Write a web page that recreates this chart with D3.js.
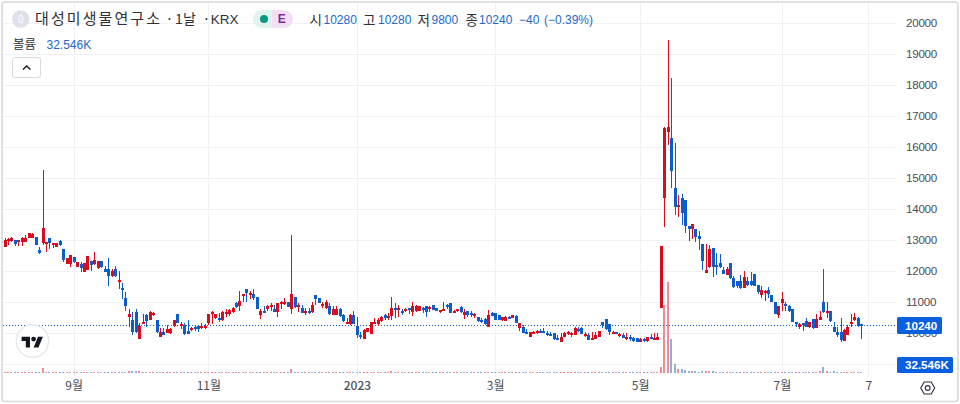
<!DOCTYPE html>
<html>
<head>
<meta charset="utf-8">
<script src="https://d3js.org/d3.v7.min.js"></script>
<style>
  html,body{margin:0;padding:0;background:#fff;}
  svg{display:block;}
  text{font-family:"Liberation Sans",Arial,sans-serif;}
  .kr{font-family:"Noto Sans CJK KR",sans-serif;}
</style>
</head>
<body>
<svg id="chart" width="960" height="404"></svg>
<script>
var opens = [
12790,12980,12970,12990,12970,12930,12950,13080,13080,13090,
12680,12890,12940,13080,12880,12790,12970,12710,12230,12220,
12440,12140,12220,11980,12030,12310,12220,12110,12310,12070,
12070,11850,12070,11660,11460,11120,10510,10420,10670,9810,
10310,10580,10420,10580,10420,9880,10020,10010,9990,10240,
10610,10280,10260,10070,10110,10200,10220,10200,10190,10310,
10600,10500,10500,10420,10650,10600,10690,10980,10880,11240,
11420,11260,11250,11160,10580,10710,10780,10880,10780,10670,
10950,10970,10990,10780,11160,10880,10800,10670,10710,10670,
11230,11140,10890,10800,10870,10590,10590,10760,10580,10350,
10300,10580,10230,9920,9810,10040,9980,10320,10280,10390,
10580,10530,10560,10800,10780,10710,10750,10800,10670,10710,
10710,10800,10870,10810,10900,10800,10690,10740,10900,10960,
10640,10720,10850,10580,10710,10640,10540,10510,10420,10440,
10200,10640,10640,10580,10420,10390,10530,10500,10560,10170,
10200,10040,9880,10000,10020,10060,10080,9990,9970,9990,
9830,9720,9880,9990,9970,9940,10130,10150,9950,9940,
9790,9810,9880,10350,10440,10280,10020,10020,9920,9920,
9850,9870,9850,9830,9720,9820,9750,9880,9800,9790,
10820,14360,16480,16290,14680,14060,14360,14290,13450,13340,
13340,13130,12870,11950,12140,12730,12190,12250,12030,11870,
12250,11760,11680,11680,11440,11680,11680,11900,11550,11210,
11320,11380,11230,11010,10580,10980,10930,10870,10760,10360,
10200,10310,10400,10200,10440,10170,10430,10990,10690,10710,
10200,10040,10020,9750,9920,10350,10420,10500,10280];
var highs = [
13050,13050,13090,13010,12990,13110,13160,13230,13210,13090,
12790,15250,12950,13080,12890,12890,12990,12710,12430,12510,
12440,12300,12280,12270,12500,12310,12600,12320,12310,12170,
12410,12070,12150,12000,11610,11310,10780,10670,10760,10310,
10600,10600,10710,10670,10420,10150,10150,10260,10150,10420,
10610,10350,10310,10420,10200,10230,10260,10310,10280,10600,
10710,10600,10640,10710,10780,10780,10850,10990,11360,11260,
11420,11360,11420,11160,10760,10880,10900,10960,10900,10960,
11030,11120,10990,13150,11160,10960,10900,10820,10800,10990,
11230,11140,10990,11050,10960,10880,10880,10800,10600,10470,
10600,10710,10530,10040,10130,10170,10350,10500,10470,10560,
10610,10640,11160,10960,10900,10780,10820,10820,10990,10900,
10870,10850,10870,10870,10900,10800,10750,10990,10930,10960,
10740,10780,10880,10780,10710,10710,10640,10510,10470,10470,
10740,10690,10640,10580,10530,10560,10560,10580,10580,10310,
10260,10130,10020,10070,10100,10130,10170,10080,10020,10010,
9940,9990,10040,10070,10040,10180,10200,10180,10040,9990,
10040,10040,10080,10370,10450,10280,10070,10030,9990,10000,
9990,9920,9880,9850,9830,9850,9880,9960,9990,9990,
12810,16650,19450,18220,16130,14450,14480,14290,13450,13510,
13340,13290,12870,12870,12840,12730,12570,12540,12140,12140,
12250,11850,11680,11870,12000,11820,11960,11900,11550,11510,
11390,11470,11230,11010,10870,11330,10990,10900,10760,10370,
10310,10310,10470,10370,10440,10600,10710,12070,10990,10710,
10350,10180,10470,10130,10260,10600,10640,10530,10280];
var lows = [
12790,12840,12930,12820,12820,12820,12930,13050,13050,12840,
12550,12840,12620,12710,12730,12790,12820,12280,12230,12140,
12250,12140,11980,11980,12030,12010,12190,12070,12090,11960,
11530,11820,11820,11420,11100,10710,10200,9920,9990,9810,
10280,10200,10420,10560,10010,9880,9920,9990,9960,10200,
10330,10130,9940,9980,10070,10070,10040,10130,10130,10260,
10280,10450,10370,10400,10530,10560,10640,10820,10710,11010,
10990,11100,11070,10780,10450,10660,10710,10710,10670,10530,
10780,10900,10850,10600,10820,10690,10640,10580,10610,10640,
10900,10960,10800,10780,10580,10580,10580,10530,10370,10310,
10260,10290,9830,9810,9810,10020,9970,10280,10240,10350,
10420,10420,10420,10470,10530,10580,10670,10600,10560,10690,
10710,10640,10530,10670,10740,10710,10640,10740,10780,10630,
10630,10690,10640,10450,10530,10530,10500,10370,10310,10260,
10200,10560,10430,10420,10390,10390,10450,10470,10330,10070,
9990,10000,9870,9960,9970,10010,9990,9900,9900,9780,
9780,9700,9860,9920,9880,9920,10020,9960,9880,9780,
9780,9800,9860,10150,10100,9940,9960,9970,9880,9830,
9780,9750,9720,9700,9700,9720,9720,9830,9780,9780,
10820,13420,16060,14680,13810,13730,13480,13240,12980,13030,
12950,12680,12030,11930,12110,11800,11870,12090,11890,11870,
11740,11440,11460,11420,11440,11520,11530,11520,11250,11140,
11030,11120,10990,10600,10500,10710,10710,10690,10350,10200,
10130,10070,10180,10170,10130,10150,10430,10640,10500,10370,
10020,9880,9720,9750,9920,10200,10400,10200,9800];
var closes = [
13000,13040,13050,12880,12990,13080,13080,13220,13180,12840,
12570,13400,12950,12890,12890,12890,12840,12360,12430,12510,
12300,12300,12110,12270,12500,12190,12360,12320,12120,11980,
11850,12000,11850,11710,11400,10870,10610,10020,10020,10240,
10350,10390,10670,10640,10020,10020,9920,10130,10130,10420,
10330,10290,9960,9980,10150,10130,10130,10230,10240,10600,
10670,10600,10420,10670,10670,10740,10820,10840,11030,11260,
11300,11280,11120,10780,10720,10660,10870,10900,10670,10960,
10990,10990,10850,11260,10840,10900,10660,10720,10660,10900,
11090,10980,10930,10990,10600,10780,10780,10560,10390,10370,
10580,10300,9920,9880,10090,10150,10350,10350,10420,10530,
10470,10560,10800,10740,10800,10660,10780,10780,10870,10870,
10870,10740,10670,10830,10750,10720,10730,10760,10860,10640,
10710,10760,10670,10690,10580,10600,10600,10390,10390,10290,
10580,10560,10430,10430,10510,10530,10460,10580,10330,10310,
10010,10010,10020,10020,10060,10020,10040,9950,9930,9810,
9800,9880,10010,10020,9990,10150,10100,9970,9970,9790,
9850,9920,10080,10260,10130,10040,10040,9990,9960,9850,
9870,9850,9740,9720,9800,9790,9860,9850,9850,9880,
12810,16600,16640,15240,14070,14120,13880,13450,13350,13510,
13110,13030,12330,12030,12710,12140,12140,12120,11900,12050,
11760,11500,11530,11440,11820,11540,11550,11530,11330,11380,
11370,11250,11010,10620,10870,11100,10860,10710,10370,10280,
10300,10280,10200,10350,10150,10440,10520,10670,10720,10390,
10040,9920,9780,10100,10200,10370,10530,10240,10240];
// volume in thousands
var volumes = [
30,25,20,25,20,30,25,35,25,30,
30,165,40,30,25,20,25,35,30,30,
25,25,25,30,35,25,25,30,25,30,
40,30,25,30,30,45,50,60,50,55,
30,25,30,25,35,30,25,25,20,30,
30,20,30,25,20,20,20,20,20,40,
30,25,25,30,25,30,30,25,35,30,
30,25,20,30,30,20,20,20,25,30,
25,20,20,125,40,30,25,20,20,30,
30,25,20,25,25,20,20,25,25,20,
30,25,40,30,30,20,35,25,25,25,
20,20,50,30,25,20,20,20,30,25,
25,20,20,20,20,20,15,20,20,25,
20,20,20,25,20,15,15,20,15,20,
35,20,25,20,15,20,15,15,20,25,
25,20,20,15,15,15,15,15,15,20,
15,20,20,15,15,25,20,20,15,15,
15,20,25,40,35,30,15,15,15,15,
15,15,15,15,15,15,20,15,15,30,
190,2055,2730,1035,285,135,130,105,70,60,
60,45,50,50,65,60,45,40,40,45,
45,40,35,30,35,30,25,30,30,30,
20,25,35,40,45,45,30,25,40,30,
25,20,25,20,25,40,50,195,60,45,
50,40,45,40,35,30,30,30,32.546];

var gridTicks = [9000,10000,11000,12000,13000,14000,15000,16000,17000,18000,19000,20000];
var priceTicks = [10000,11000,12000,13000,14000,15000,16000,17000,18000,19000,20000];
// candle index where each time label sits
var timeIdx = [20,59,102,142,184,225,250];
var timeLabels = ["9월","11월","2023","3월","5월","7월","7"];

var upColor = "#dc0a1e";
var downColor = "#0c5dcc";
var gridColor = "#f0f1f4";
var textBlue = "#2468c8";

var svg = d3.select("#chart");
var paneRight = 896;

var x = d3.scaleLinear().domain([0,248]).range([4.5,861.3]);
var y = d3.scaleLinear().domain([9000,20000]).range([364,23]);
var yVol = d3.scaleLinear().domain([0,2730]).range([373,282]);

// frame
svg.append("rect").attr("x",2).attr("y",2).attr("width",956).attr("height",399.5)
  .attr("rx",3).attr("fill","#fff").attr("stroke","#d8d8da").attr("stroke-width",1.6);

// grid
svg.append("g").selectAll("line").data(gridTicks).enter().append("line")
  .attr("x1",3).attr("x2",paneRight)
  .attr("y1",function(d){return Math.round(y(d))+0.5;})
  .attr("y2",function(d){return Math.round(y(d))+0.5;})
  .attr("stroke",gridColor);
svg.append("g").selectAll("line").data(timeIdx).enter().append("line")
  .attr("x1",function(d){return Math.round(x(d))+0.5;})
  .attr("x2",function(d){return Math.round(x(d))+0.5;})
  .attr("y1",3).attr("y2",377)
  .attr("stroke",gridColor);

// volume
svg.append("g").selectAll("rect").data(volumes).enter().append("rect")
  .attr("x",function(d,i){return Math.round(x(i))-1;})
  .attr("width",2)
  .attr("y",function(d){return Math.min(Math.round(yVol(d)),372);})
  .attr("height",function(d){return Math.max(1,373-Math.round(yVol(d)));})
  .attr("shape-rendering","crispEdges")
  .attr("fill",function(d,i){return closes[i]>=opens[i] ? "#f08c96" : "#8db0de";});

// last price line
svg.append("line").attr("x1",3).attr("x2",paneRight)
  .attr("y1",Math.floor(y(closes[248]))+0.5).attr("y2",Math.floor(y(closes[248]))+0.5)
  .attr("stroke",downColor).attr("stroke-dasharray","1 2");

// candles
var candle = svg.append("g").selectAll("g").data(opens).enter().append("g")
  .attr("shape-rendering","crispEdges")
  .attr("fill",function(d,i){return closes[i]>=opens[i] ? upColor : downColor;});
candle.append("rect")
  .attr("x",function(d,i){return Math.round(x(i));})
  .attr("width",1)
  .attr("y",function(d,i){return Math.round(y(highs[i]));})
  .attr("height",function(d,i){return Math.max(1,Math.round(y(lows[i]))-Math.round(y(highs[i])));});
candle.append("rect")
  .attr("x",function(d,i){return Math.round(x(i))-1;})
  .attr("width",3)
  .attr("y",function(d,i){return Math.round(y(Math.max(opens[i],closes[i])));})
  .attr("height",function(d,i){
    return Math.max(2,Math.round(y(Math.min(opens[i],closes[i])))-Math.round(y(Math.max(opens[i],closes[i]))));
  });

// price axis
var yAxis = d3.axisRight(y).tickValues(priceTicks).tickSize(0).tickPadding(0).tickFormat(d3.format("d"));
var yG = svg.append("g").attr("transform","translate(906,0)").call(yAxis);
yG.select(".domain").remove();
yG.selectAll("text").attr("font-size",11.6).attr("fill","#4a4e57").style("letter-spacing","-0.25px")
  .style("font-family",'"Liberation Sans",Arial,sans-serif');

// time axis
var xAxis = d3.axisBottom(x).tickValues(timeIdx).tickSize(0).tickPadding(0)
  .tickFormat(function(d,i){return timeLabels[i];});
var xG = svg.append("g").attr("transform","translate(0,381.5)").call(xAxis);
xG.select(".domain").remove();
xG.selectAll("text").attr("class","kr").attr("font-size",12).attr("fill","#4a4e57")
  .style("font-family",'"Noto Sans CJK KR",sans-serif')
  .style("font-weight",function(d,i){return timeLabels[i]=="2023" ? 500 : 400;})
  .attr("y",0);

// price labels
function priceTag(top,w,h,txt){
  svg.append("rect").attr("x",897).attr("y",top).attr("width",w).attr("height",h).attr("rx",1.5).attr("fill","#0a5fe0");
  svg.append("text").attr("x",905).attr("y",top+h/2+4.2).attr("fill","#fff").attr("font-size",11.6)
    .attr("font-weight","bold").text(txt);
}
priceTag(317,45,17,"10240");
priceTag(357,56,16,"32.546K");

// settings icon
var gear = svg.append("g").attr("transform","translate(927.7,388)").attr("fill","none").attr("stroke","#2a2e39").attr("stroke-width",1.1);
gear.append("path").attr("d","M-7,0L-3.5,-6H3.5L7,0L3.5,6H-3.5Z");
gear.append("circle").attr("r",2.4);

// logo
var logo = svg.append("g");
logo.append("circle").attr("cx",32.5).attr("cy",341).attr("r",16.2).attr("fill","#fff").attr("stroke","#e8e9ee").attr("stroke-width",1.5);
var logoMark = logo.append("g").attr("transform","translate(21.6,334.3) scale(0.6)").attr("fill","#131722");
logoMark.append("path").attr("d","M14 22H7V11H0V4h14v18zM28 22h-8l7.5-18h8L28 22z");
logoMark.append("circle").attr("cx",20).attr("cy",8).attr("r",4);

// legend
svg.append("circle").attr("cx",20.7).attr("cy",19).attr("r",8.7).attr("fill","#dfe1ea");
svg.append("text").attr("x",20.7).attr("y",22.5).attr("text-anchor","middle").attr("font-size",10).attr("fill","#fff").text("0");
var titleParts = [["대성미생물연구소",35,15,125],["·",165.5,14,null],["1",175,14,null],["날",183,14,null],["·",202.5,14,null]];
svg.append("g").selectAll("text").data(titleParts).enter().append("text").attr("class","kr")
  .attr("x",function(d){return d[1];}).attr("y",24).attr("font-size",function(d){return d[2];}).attr("fill","#2e3138")
  .attr("textLength",function(d){return d[3];})
  .text(function(d){return d[0];});
svg.append("text").attr("x",210.7).attr("y",24).attr("font-size",13.5).attr("fill","#2e3138").text("KRX");

svg.append("path").attr("d","M272,10H262a9,9 0 0 0 0,18H272Z").attr("fill","#e0f3ef");
svg.append("path").attr("d","M272,10H284a9,9 0 0 1 0,18H272Z").attr("fill","#f2def5");
svg.append("circle").attr("cx",264).attr("cy",19).attr("r",4).attr("fill","#089981");
svg.append("text").attr("x",281.7).attr("y",23.4).attr("text-anchor","middle").attr("font-size",12).attr("font-weight","bold").attr("fill","#7b2d9b").text("E");

var legendKeys = [["시",309.5],["고",363],["저",417.5],["종",465.5]];
var legendVals = [["10280",323.5],["10280",378],["9800",431.5],["10240",479],["−40",519],["(−0.39%)",544]];
svg.append("g").selectAll("text").data(legendKeys).enter().append("text").attr("class","kr")
  .attr("x",function(d){return d[1];}).attr("y",24.5).attr("font-size",13.5).attr("fill","#2e3138")
  .text(function(d){return d[0];});
svg.append("g").selectAll("text").data(legendVals).enter().append("text")
  .attr("x",function(d){return d[1];}).attr("y",24).attr("font-size",12).attr("fill",textBlue)
  .text(function(d){return d[0];});

svg.append("text").attr("class","kr").attr("x",13).attr("y",49).attr("font-size",12.5).attr("fill","#2e3138").text("볼륨");
svg.append("text").attr("x",46.5).attr("y",48.5).attr("font-size",12).attr("fill",textBlue).text("32.546K");

// collapse button
svg.append("rect").attr("x",12.5).attr("y",57.5).attr("width",28).attr("height",20).attr("rx",2.5)
  .attr("fill","#fff").attr("stroke","#d8dae0");
svg.append("path").attr("d","M23,69.5L26.7,66L30.4,69.5").attr("fill","none").attr("stroke","#131722").attr("stroke-width",1.4);
</script>
</body>
</html>
